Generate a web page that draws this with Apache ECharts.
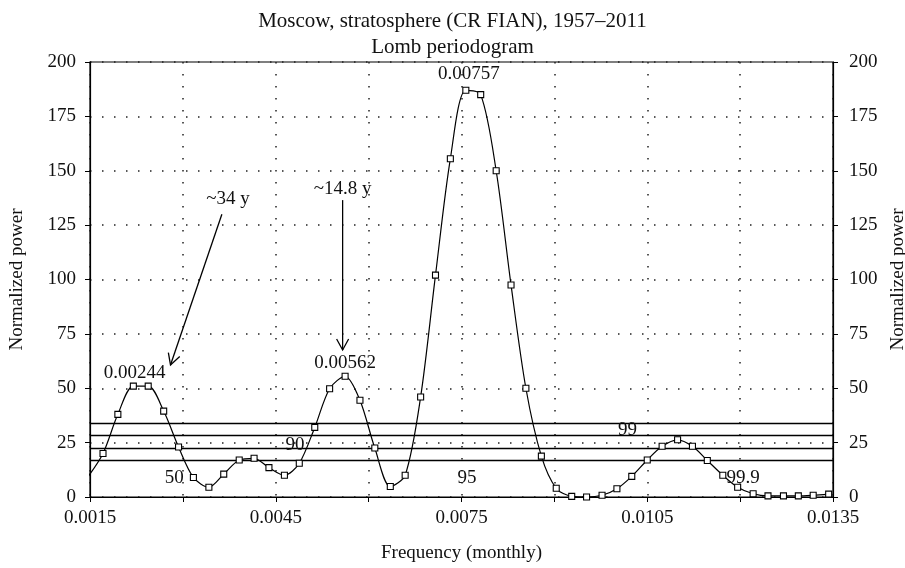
<!DOCTYPE html>
<html>
<head>
<meta charset="utf-8">
<script src="https://cdn.jsdelivr.net/npm/echarts@6/dist/echarts.min.js"></script>
<style>
html,body{margin:0;padding:0;background:#fff;}
#chart{width:905px;height:568px;}
</style>
</head>
<body>
<div id="chart"></div>
<script>
// Frequencies (cycles per month) of the periodogram samples
var frequencies = [0.00146, 0.00171, 0.00195, 0.00220, 0.00244, 0.00269, 0.00293, 0.00317, 0.00342, 0.00366,
  0.00391, 0.00415, 0.00439, 0.00464, 0.00488, 0.00513, 0.00537, 0.00562, 0.00586, 0.00610,
  0.00635, 0.00659, 0.00684, 0.00708, 0.00732, 0.00757, 0.00781, 0.00806, 0.00830, 0.00854,
  0.00879, 0.00903, 0.00928, 0.00952, 0.00977, 0.01001, 0.01025, 0.01050, 0.01074, 0.01099,
  0.01123, 0.01147, 0.01172, 0.01196, 0.01221, 0.01245, 0.01270, 0.01294, 0.01318, 0.01343];
// Normalized power
var power = [9, 20, 38, 51, 51, 39.5, 23, 9, 4.5, 10.5,
  17, 17.8, 13.5, 10, 15.5, 32, 49.8, 55.5, 44.5, 22.5,
  4.8, 10, 46, 102, 155.5, 187, 185, 150, 97.5, 50,
  18.8, 4, 0.3, 0, 0.8, 3.8, 9.5, 17, 23.3, 26.3,
  23.3, 16.8, 10, 4.5, 1.5, 0.5, 0.5, 0.5, 0.8, 1.3];
// Significance levels (%) and their power thresholds
var sigLevels = ['50', '90', '95', '99'];
var sigValues = [17, 22.4, 28.5, 33.9];
// Significance labels: [text, frequency, power]
var sigLabels = [['50', 0.00286, 8.8], ['90', 0.00481, 23.9], ['95', 0.00759, 8.8], ['99', 0.01018, 30.8], ['99.9', 0.01205, 8.8]];
// Peak labels: [text, frequency, power]
var peakLabels = [['0.00244', 0.00222, 57], ['0.00562', 0.00562, 61.5], ['0.00757', 0.00762, 194.5]];
// Period annotations: [text, textFreq, textPower, fromFreq, fromPower, toFreq, toPower]
var periodNotes = [['~34 y', 0.00373, 137, 0.00363, 130, 0.00280, 60.7],
                   ['~14.8 y', 0.00558, 141.5, 0.00558, 136.5, 0.00558, 67.6]];
// Axis ticks
var xMin = 0.0015, xMax = 0.0135, xStep = 0.0015;
var yMin = 0, yMax = 200, yStep = 25;

var FONT = 'Liberation Serif';
var chart = echarts.init(document.getElementById('chart'));

var seriesData = frequencies.map(function (f, i) { return [f, power[i]]; });

var option = {
  backgroundColor: '#fff',
  animation: false,
  title: {
    text: 'Moscow, stratosphere (CR FIAN), 1957–2011\nLomb periodogram',
    left: 'center',
    top: 3,
    textStyle: { fontFamily: FONT, fontSize: 21, fontWeight: 'normal', color: '#111', lineHeight: 26 }
  },
  grid: { left: 90, right: 72, top: 62, bottom: 71, outerBoundsMode: 'none', containLabel: false,
    show: true, borderColor: '#000', borderWidth: 1.2, backgroundColor: 'transparent' },
  xAxis: {
    type: 'value', min: xMin, max: xMax, interval: xStep,
    name: 'Frequency (monthly)', nameLocation: 'middle', nameGap: 47,
    nameTextStyle: { fontFamily: FONT, fontSize: 19, color: '#111' },
    axisLine: { show: true, lineStyle: { color: '#000', width: 1.2 } },
    axisTick: { show: true, inside: false, length: 5, lineStyle: { color: '#000' } },
    axisLabel: {
      fontFamily: FONT, fontSize: 19, color: '#111', margin: 12,
      formatter: function (v) {
        var k = Math.round((v - xMin) / xStep);
        return k % 2 === 0 ? v.toFixed(4) : '';
      }
    },
    splitLine: { show: true, lineStyle: { color: '#222', width: 1.5, type: [1.5, 10.5] } }
  },
  yAxis: [{
    type: 'value', min: yMin, max: yMax, interval: yStep, position: 'left',
    name: 'Normalized power', nameLocation: 'middle', nameGap: 63, nameRotate: 90,
    nameTextStyle: { fontFamily: FONT, fontSize: 19, color: '#111' },
    axisLine: { show: true, lineStyle: { color: '#000', width: 1.2 } },
    axisTick: { show: true, length: 5, lineStyle: { color: '#000' } },
    axisLabel: { fontFamily: FONT, fontSize: 19, color: '#111', margin: 14 },
    splitLine: { show: true, lineStyle: { color: '#222', width: 1.5, type: [1.5, 10.5] } }
  }, {
    type: 'value', min: yMin, max: yMax, interval: yStep, position: 'right',
    name: 'Normalized power', nameLocation: 'middle', nameGap: 53, nameRotate: 90,
    nameTextStyle: { fontFamily: FONT, fontSize: 19, color: '#111' },
    axisLine: { show: true, lineStyle: { color: '#000', width: 1.2 } },
    axisTick: { show: true, length: 5, lineStyle: { color: '#000' } },
    axisLabel: { fontFamily: FONT, fontSize: 19, color: '#111', margin: 16 },
    splitLine: { show: false }
  }],
  series: [{
    type: 'line',
    data: seriesData,
    smooth: 0.3,
    clip: true,
    symbol: 'rect',
    symbolSize: 6,
    showAllSymbol: true,
    lineStyle: { color: '#000', width: 1.2 },
    itemStyle: { color: '#fff', borderColor: '#000', borderWidth: 1.1 },
    z: 5,
    markLine: {
      silent: true,
      symbol: ['none', 'none'],
      label: { show: false },
      lineStyle: { color: '#000', width: 1.4, type: 'solid' },
      data: sigValues.map(function (v, i) { return { name: sigLevels[i], yAxis: v }; })
    }
  }, {
    type: 'scatter',
    symbolSize: 0,
    silent: true,
    z: 6,
    itemStyle: { opacity: 1 },
    data: sigLabels.concat(peakLabels).map(function (d) {
      return { value: [d[1], d[2]], name: d[0] };
    }),
    label: {
      show: true, position: 'inside', formatter: '{b}',
      fontFamily: FONT, fontSize: 19, color: '#111', opacity: 1
    }
  }, {
    type: 'custom',
    silent: true,
    z: 7,
    data: periodNotes.map(function (d) { return [d[1], d[2], d[3], d[4], d[5], d[6]]; }),
    renderItem: function (params, api) {
      var note = periodNotes[params.dataIndex];
      var t = api.coord([api.value(0), api.value(1)]);
      var a = api.coord([api.value(2), api.value(3)]);
      var b = api.coord([api.value(4), api.value(5)]);
      var dx = b[0] - a[0], dy = b[1] - a[1];
      var len = Math.sqrt(dx * dx + dy * dy);
      var ux = dx / len, uy = dy / len;
      var hl = 11, hw = 6;
      var p1 = [b[0] - ux * hl - uy * hw, b[1] - uy * hl + ux * hw];
      var p2 = [b[0] - ux * hl + uy * hw, b[1] - uy * hl - ux * hw];
      return {
        type: 'group',
        children: [{
          type: 'line', shape: { x1: a[0], y1: a[1], x2: b[0], y2: b[1] },
          style: { stroke: '#000', lineWidth: 1.3 }
        }, {
          type: 'polyline', shape: { points: [p1, b, p2] },
          style: { stroke: '#000', lineWidth: 1.3, fill: null }
        }, {
          type: 'text',
          style: { text: note[0], x: t[0], y: t[1], align: 'center', verticalAlign: 'middle',
            font: '19px "' + FONT + '"', fill: '#111' }
        }]
      };
    }
  }]
};
chart.setOption(option);
</script>
</body>
</html>
